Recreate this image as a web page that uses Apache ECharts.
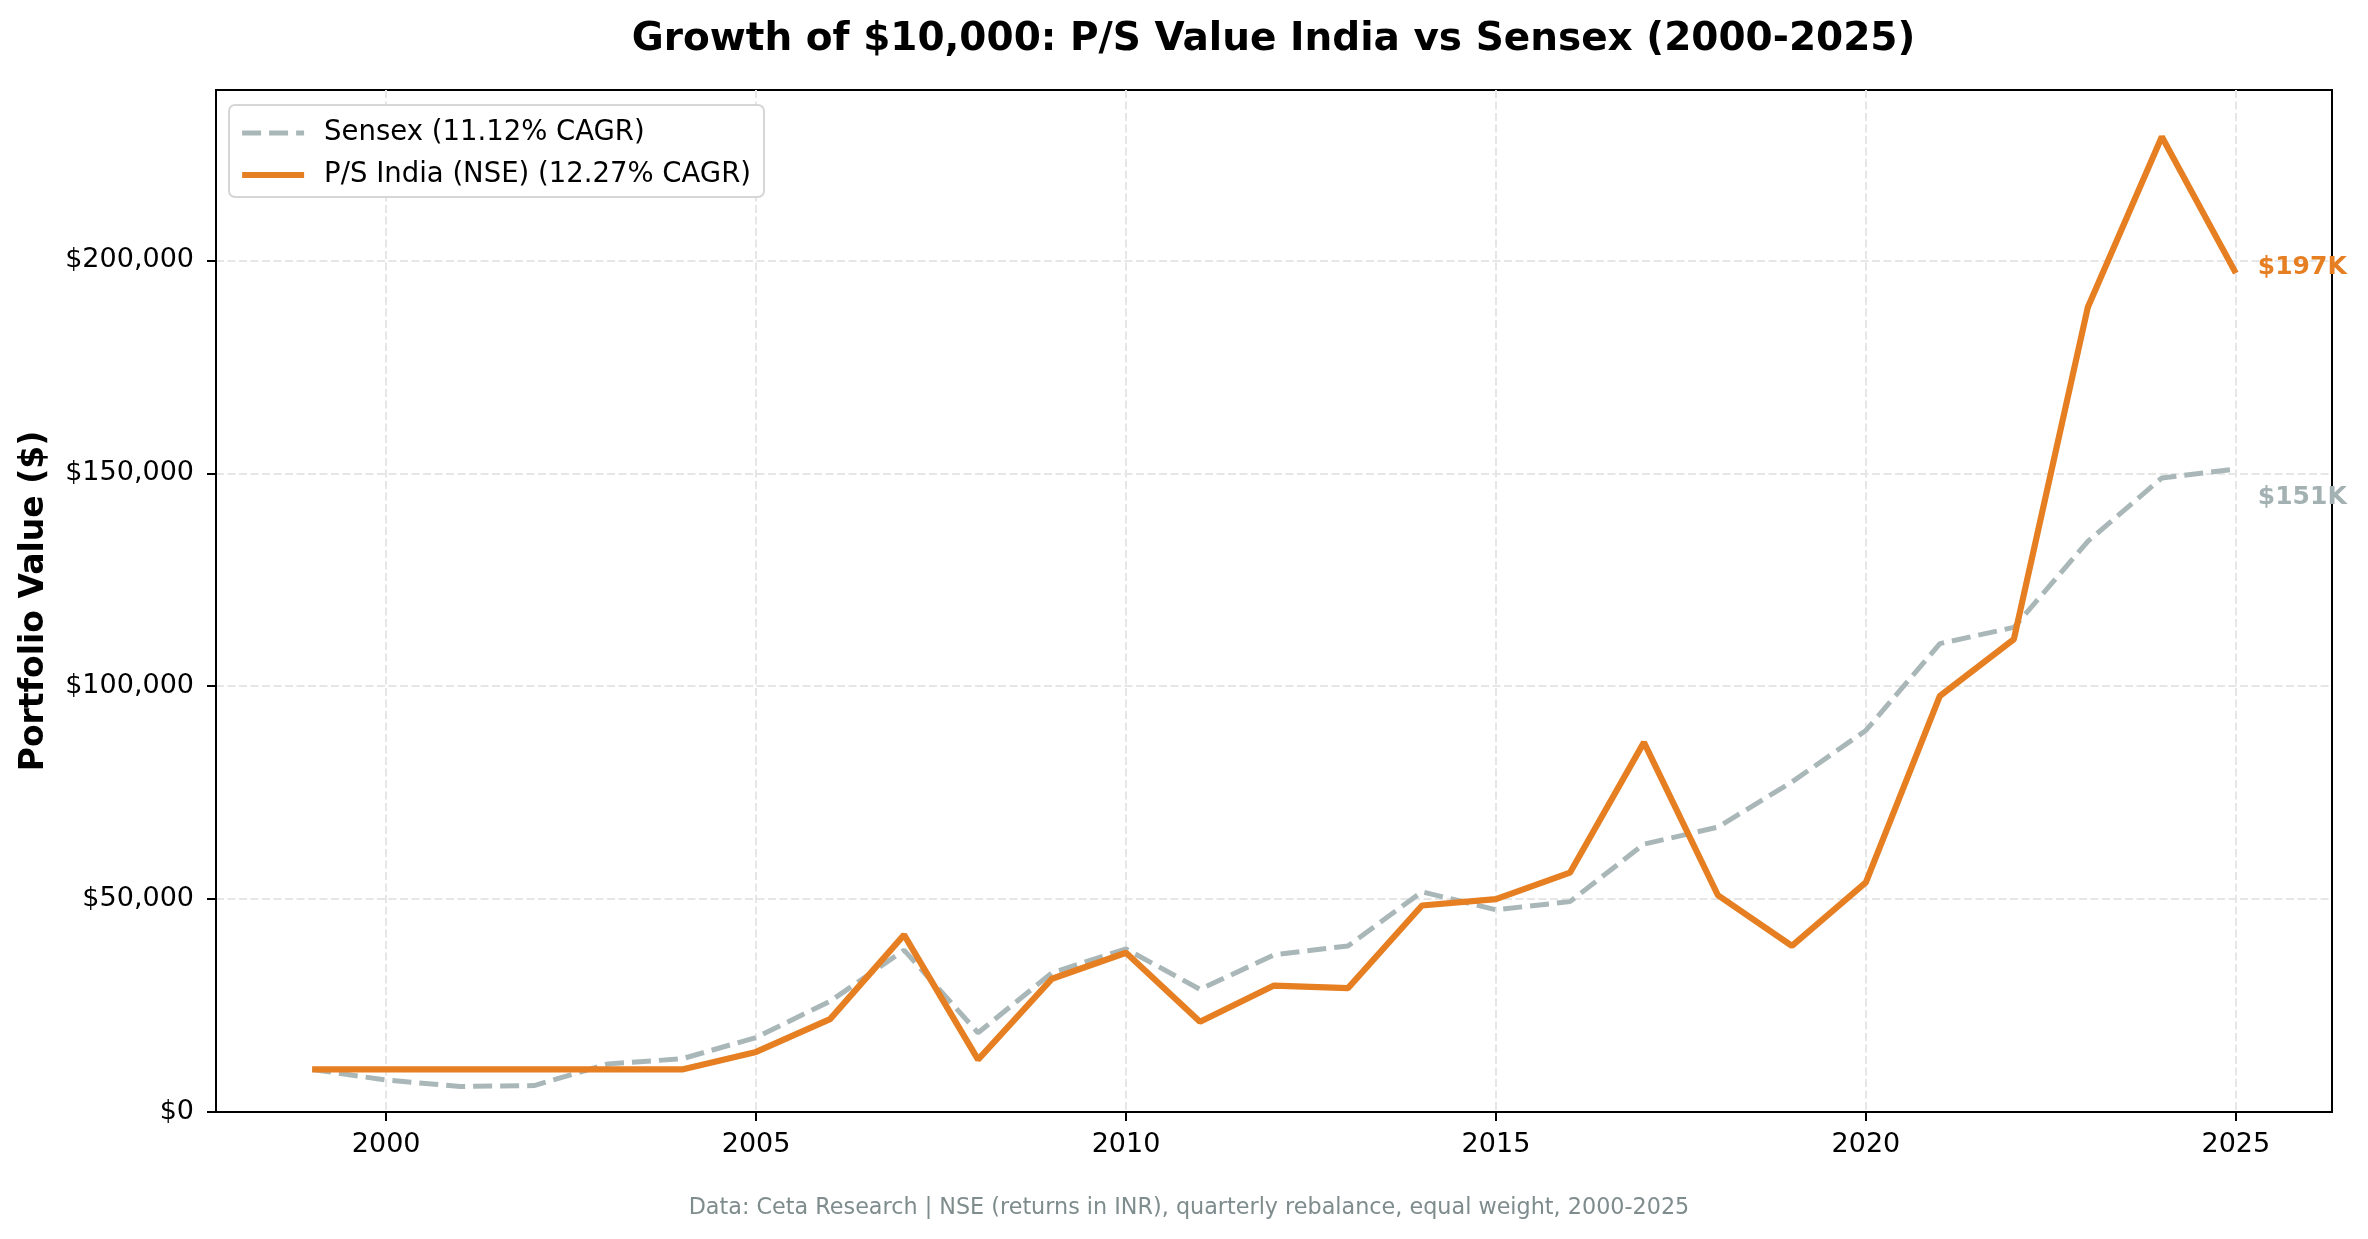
<!DOCTYPE html>
<html>
<head>
<meta charset="utf-8">
<script src="https://cdn.jsdelivr.net/npm/echarts@6/dist/echarts.min.js"></script>
<style>
html,body{margin:0;padding:0;background:#fff;}
#chart{width:2368px;height:1239px;}
</style>
</head>
<body>
<div id="chart"></div>
<script>
var years = [1999,2000,2001,2002,2003,2004,2005,2006,2007,2008,2009,2010,2011,2012,2013,2014,2015,2016,2017,2018,2019,2020,2021,2022,2023,2024,2025];
var sensex = [10000,7500,6000,6200,11300,12500,17500,26000,38000,18600,32700,38300,28800,36900,39000,51700,47500,49400,62900,66900,77500,89600,110000,113800,134000,148900,151000];
var psIndia = [10000,10000,10000,10000,10000,10000,14100,21800,41600,12300,31300,37400,21200,29700,29100,48500,50000,56200,86800,50900,39000,53900,97700,111000,189000,229000,197000];
var xTicks = [2000,2005,2010,2015,2020,2025];
var yTicks = [0,50000,100000,150000,200000];
var seriesNames = ['Sensex (11.12% CAGR)','P/S India (NSE) (12.27% CAGR)'];
var titleText = 'Growth of $10,000: P/S Value India vs Sensex (2000-2025)';
var yLabel = 'Portfolio Value ($)';
var footnote = 'Data: Ceta Research | NSE (returns in INR), quarterly rebalance, equal weight, 2000-2025';

function pairs(vals){ return years.map(function(y,i){ return [y, vals[i]]; }); }
function fmtMoney(v){ return '$' + Math.round(v).toString().replace(/\B(?=(\d{3})+(?!\d))/g, ','); }
function fmtK(p){ return '$' + Math.round(p.value[1]/1000) + 'K'; }

var FONT = 'DejaVu Sans';
var GRAY = '#aab7b8', ORANGE = '#e67e22';
var chart = echarts.init(document.getElementById('chart'));
chart.setOption({
  backgroundColor:'#ffffff',
  animation:false,
  textStyle:{fontFamily:FONT},
  grid:{left:216, right:36, top:90, bottom:127, show:true, borderColor:'#000', borderWidth:2, containLabel:false},
  xAxis:{
    type:'value', min:1997.7, max:2026.3,
    axisLine:{show:true, onZero:false, lineStyle:{color:'#000', width:2}},
    axisTick:{show:true, customValues:xTicks, length:9, lineStyle:{color:'#000', width:2}},
    axisLabel:{customValues:xTicks, fontSize:27, color:'#000', margin:19, fontFamily:FONT, formatter:function(v){return String(v);}},
    splitLine:{show:true, lineStyle:{color:'#e6e6e6', width:2, type:[8,3.5]}}
  },
  yAxis:{
    type:'value', min:0, max:240000,
    axisLine:{show:true, lineStyle:{color:'#000', width:2}},
    axisTick:{show:true, customValues:yTicks, length:9, lineStyle:{color:'#000', width:2}},
    axisLabel:{customValues:yTicks, fontSize:27, color:'#000', margin:22, fontFamily:FONT, formatter:function(v){return fmtMoney(v);}},
    splitLine:{show:true, lineStyle:{color:'#e6e6e6', width:2, type:[8,3.5]}}
  },
  legend:{
    orient:'vertical', left:229, top:105,
    backgroundColor:'#fff', borderColor:'#d6d6d6', borderWidth:2, borderRadius:6,
    padding:[13,13,7,10], itemGap:12, itemWidth:62, itemHeight:30,
    textStyle:{fontSize:27.5, color:'#000', fontFamily:FONT, padding:[0,0,0,15], lineHeight:30},
    data:[
      {name:seriesNames[0], itemStyle:{opacity:0}, lineStyle:{color:GRAY, width:5, type:[19,8]}},
      {name:seriesNames[1], itemStyle:{opacity:0}, lineStyle:{color:ORANGE, width:6.2, type:'solid'}}
    ]
  },
  series:[
    {
      name:seriesNames[0], type:'line', data:pairs(sensex), symbol:'none',
      lineStyle:{color:GRAY, width:5, type:[19,8]}, itemStyle:{color:GRAY},
      endLabel:{show:true, formatter:fmtK, color:'#a3b1b2', fontWeight:'bold', fontSize:25, fontFamily:FONT, distance:22, offset:[0,29]}
    },
    {
      name:seriesNames[1], type:'line', data:pairs(psIndia), symbol:'none',
      lineStyle:{color:ORANGE, width:6.2}, itemStyle:{color:ORANGE},
      endLabel:{show:true, formatter:fmtK, color:ORANGE, fontWeight:'bold', fontSize:25, fontFamily:FONT, distance:22, offset:[0,-6]}
    }
  ],
  graphic:[
    {type:'text', x:1273.5, y:40, style:{text:titleText, font:'bold 39px "DejaVu Sans"', fill:'#000', textAlign:'center', textVerticalAlign:'middle'}},
    {type:'text', x:34, y:601, rotation:Math.PI/2, style:{text:yLabel, font:'bold 33px "DejaVu Sans"', fill:'#000', textAlign:'center', textVerticalAlign:'middle'}},
    {type:'text', x:1189, y:1208, style:{text:footnote, font:'22.3px "DejaVu Sans"', fill:'#7f8c8d', textAlign:'center', textVerticalAlign:'middle'}}
  ]
});
</script>
</body>
</html>
